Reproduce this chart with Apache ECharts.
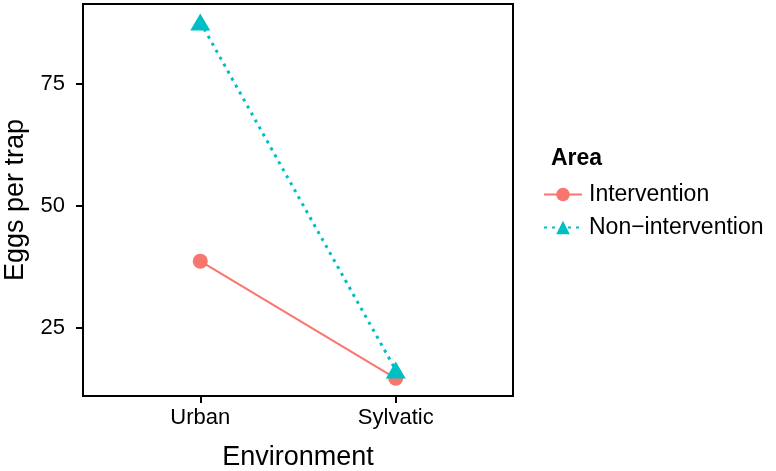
<!DOCTYPE html>
<html><head><meta charset="utf-8">
<script src="https://cdn.jsdelivr.net/npm/echarts@6/dist/echarts.min.js"></script>
<style>html,body{margin:0;padding:0;background:#fff}#c{width:776px;height:471px}</style>
</head><body><div id="c"></div>
<script>
var categories = ['Urban', 'Sylvatic'];
var intervention = [38.7, 14.7];
var nonIntervention = [87.7, 16.4];
var yTicks = [25, 50, 75];
var legendTitle = 'Area';
var seriesNames = ['Intervention', 'Non\u2212intervention'];

var xPos = categories.map(function (c, i) { return i + 1; });
function pts(vals) { return vals.map(function (v, i) { return [xPos[i], v]; }); }

var font = 'Liberation Sans, Arial, sans-serif';
var chart = echarts.init(document.getElementById('c'), null, {renderer: 'canvas'});
chart.setOption({
  animation: false,
  backgroundColor: '#fff',
  title: {
    text: legendTitle, left: 546, top: 142,
    textStyle: {fontFamily: font, fontWeight: 'bold', fontSize: 23, color: '#000'}
  },
  legend: {
    orient: 'vertical', left: 538, top: 178, itemGap: 10,
    itemWidth: 38, itemHeight: 17,
    textStyle: {fontFamily: font, fontSize: 23, color: '#000', padding: [0,0,0,2]},
    data: seriesNames
  },
  grid: {
    left: 83, right: 263, top: 4, bottom: 75,
    containLabel: false, outerBoundsMode: 'none',
    show: true, borderColor: '#000', borderWidth: 2, backgroundColor: '#fff'
  },
  xAxis: {
    type: 'value', min: 0.4, max: 2.6,
    name: 'Environment', nameLocation: 'middle', nameGap: 48,
    nameTextStyle: {fontFamily: font, fontSize: 27, color: '#000'},
    axisLine: {show: true, onZero: false, lineStyle: {color: '#000', width: 2}},
    axisTick: {show: true, length: 7, customValues: xPos, lineStyle: {color: '#000', width: 2}},
    axisLabel: {customValues: xPos, margin: 11, fontFamily: font, fontSize: 22, color: '#000',
      formatter: function (v) { return categories[Math.round(v) - 1] || ''; }},
    splitLine: {show: false}
  },
  yAxis: {
    type: 'value', min: 11.07, max: 91.39,
    name: 'Eggs per trap', nameLocation: 'middle', nameGap: 54,
    nameTextStyle: {fontFamily: font, fontSize: 27, color: '#000'},
    axisLine: {show: true, onZero: false, lineStyle: {color: '#000', width: 2}},
    axisTick: {show: true, length: 7, customValues: yTicks, lineStyle: {color: '#000', width: 2}},
    axisLabel: {customValues: yTicks, margin: 18, fontFamily: font, fontSize: 22, color: '#000'},
    splitLine: {show: false}
  },
  series: [
    {
      name: seriesNames[0], type: 'line', data: pts(intervention),
      symbol: 'circle', symbolSize: 15,
      itemStyle: {color: '#F8766D'},
      lineStyle: {color: '#F8766D', width: 2, type: 'solid'}
    },
    {
      name: seriesNames[1], type: 'line', data: pts(nonIntervention),
      symbol: 'triangle', symbolSize: [20, 17],
      itemStyle: {color: '#00BFC4'},
      lineStyle: {color: '#00BFC4', width: 3, type: [3, 5]}
    }
  ]
});
</script>
</body></html>
